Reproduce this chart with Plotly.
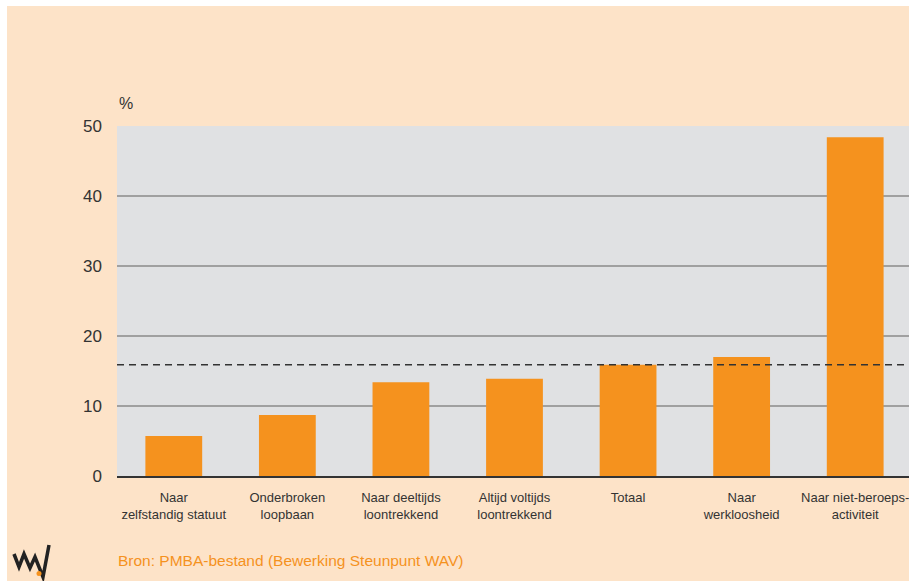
import plotly.graph_objects as go

# ---- data ----
categories = [
    "Naar<br>zelfstandig statuut",
    "Onderbroken<br>loopbaan",
    "Naar deeltijds<br>loontrekkend",
    "Altijd voltijds<br>loontrekkend",
    "Totaal",
    "Naar<br>werkloosheid",
    "Naar niet-beroeps-<br>activiteit",
]
values = [5.7, 8.7, 13.4, 13.9, 15.9, 17.0, 48.4]
reference_line = 15.9
y_ticks = [0, 10, 20, 30, 40, 50]
y_unit = "%"
source_text = "Bron: PMBA-bestand (Bewerking Steunpunt WAV)"

# ---- layout geometry (pixels) ----
W, H = 909, 581
ML, MR, MT, MB = 117, 0, 126, 581 - 476
PW = W - ML - MR
PH = H - MT - MB


def px(x):
    return (x - ML) / PW


def py(y):
    return (H - MB - y) / PH


PEACH = "#FDE3C8"
ORANGE = "#F5921E"
TEXT = "#333333"
FONT = "Liberation Sans, Arial, sans-serif"

x_idx = list(range(len(categories)))

fig = go.Figure()
fig.add_trace(go.Bar(
    x=x_idx, y=values, width=0.5,
    marker=dict(color=ORANGE, line=dict(width=0)),
    hoverinfo="skip",
))

logo_pts = [(14, 554), (19, 567), (24, 554), (30, 568), (35, 557), (43, 577), (49, 545)]
logo_path = "M " + " L ".join("{},{}".format(px(a), py(b)) for a, b in logo_pts)

shapes = [
    # white page borders (left and top)
    dict(type="rect", xref="paper", yref="paper", x0=px(-5), x1=px(7), y0=py(H + 5), y1=py(-5),
         fillcolor="white", line=dict(width=0), layer="below"),
    dict(type="rect", xref="paper", yref="paper", x0=px(-5), x1=px(W + 5), y0=py(6), y1=py(-5),
         fillcolor="white", line=dict(width=0), layer="below"),
    # reference dashed line
    dict(type="line", xref="paper", yref="y", x0=0, x1=1, y0=reference_line, y1=reference_line,
         line=dict(color="#333333", width=1.5, dash="7px,5px")),
    # logo
    dict(type="path", xref="paper", yref="paper", path=logo_path,
         line=dict(color="#222222", width=3.5)),
    dict(type="circle", xref="paper", yref="paper",
         x0=px(36.5), x1=px(41.5), y0=py(571), y1=py(576),
         fillcolor=ORANGE, line=dict(width=0)),
]

annotations = [
    dict(text=y_unit, xref="paper", yref="paper", x=px(117), y=py(103),
         xanchor="left", yanchor="middle", showarrow=False,
         font=dict(family=FONT, size=16, color=TEXT)),
    dict(text=source_text, xref="paper", yref="paper", x=px(116), y=py(560),
         xanchor="left", yanchor="middle", showarrow=False,
         font=dict(family=FONT, size=15.5, color=ORANGE)),
]

fig.update_layout(
    width=W, height=H,
    margin=dict(l=ML, r=MR, t=MT, b=MB, pad=0),
    paper_bgcolor=PEACH,
    plot_bgcolor="#E0E1E3",
    showlegend=False,
    bargap=0.5,
    hovermode=False,
    shapes=shapes,
    annotations=annotations,
    font=dict(family=FONT, color=TEXT),
    xaxis=dict(
        tickmode="array", tickvals=x_idx, ticktext=categories,
        range=[-0.5, 6.5 - 3 / 114],
        showgrid=False, zeroline=False,
        showline=True, linecolor="#333333", linewidth=2,
        ticks="", tickfont=dict(family=FONT, size=13, color=TEXT),
        ticklabelstandoff=8, ticklabeloverflow="allow", fixedrange=True,
    ),
    yaxis=dict(
        range=[0, 50], tickvals=y_ticks,
        showgrid=True, gridcolor="#A0A0A0", gridwidth=1.5,
        zeroline=False, showline=False, ticks="",
        tickfont=dict(family=FONT, size=17, color=TEXT),
        ticklabelstandoff=14, fixedrange=True,
    ),
)

fig.write_html(
    "out.html",
    config={"displayModeBar": False, "staticPlot": True},
    post_script="document.body.style.margin='0';document.body.style.overflow='hidden';",
)
